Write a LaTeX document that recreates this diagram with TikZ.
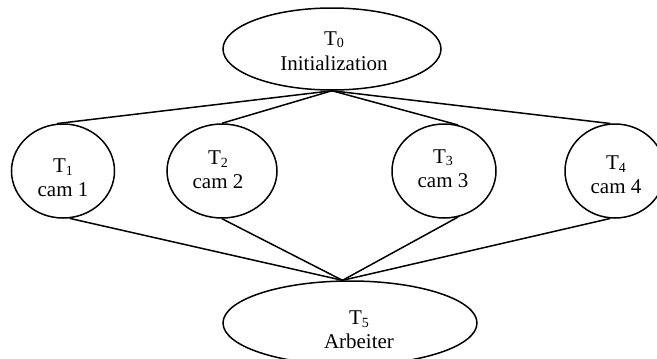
\documentclass[tikz,border=0pt]{standalone}
\usepackage{fontspec}
\setmainfont{Liberation Serif}
\usetikzlibrary{shapes.geometric}
\newcommand{\mysub}[1]{\raisebox{-2.5pt}{\fontsize{14}{14}\selectfont #1}}
\begin{document}
\begin{tikzpicture}[x=1pt,y=-1pt,
  task/.style={draw, ellipse, line width=1.5pt, inner sep=0pt},
  lbl/.style={anchor=base, inner sep=0pt, align=center, font=\fontsize{21}{20}\selectfont},
  conn/.style={line width=1.5pt}]
\useasboundingbox (0,0) rectangle (657,359);
% ellipses
\node[task, minimum width=218pt, minimum height=82pt] (T0) at (332,49) {};
\node[task, minimum width=103pt, minimum height=94pt] (T1) at (63,171) {};
\node[task, minimum width=110pt, minimum height=94pt] (T2) at (222,171) {};
\node[task, minimum width=104pt, minimum height=94pt] (T3) at (444,171) {};
\node[task, minimum width=100pt, minimum height=94pt] (T4) at (615,171) {};
\node[task, minimum width=254pt, minimum height=84pt] (T5) at (350,323) {};
% labels (anchor at baseline of last line)
\node[lbl] (l0) at (334,70) {T\mysub{0}\\[5pt]Initialization};
\node[lbl] (l1) at (63,196) {T\mysub{1}\\[3.5pt]cam 1};
\node[lbl] (l2) at (218,188) {T\mysub{2}\\[3.5pt]cam 2};
\node[lbl] (l3) at (443,187) {T\mysub{3}\\[4pt]cam 3};
\node[lbl] (l4) at (616,193) {T\mysub{4}\\[3.5pt]cam 4};
\node[lbl] (l5) at (359,348) {T\mysub{5}\\[3.5pt]Arbeiter};
% connectors
\draw[conn] (T0.south) -- (T1.97);
\draw[conn] (T0.south) -- (T2.north);
\draw[conn] (T0.south) -- (T3.73);
\draw[conn] (T0.south) -- (T4.96);
\draw[conn] (T5.100) -- (T1.-82);
\draw[conn] (T5.100) -- (T2.south);
\draw[conn] (T5.100) -- (T3.-73);
\draw[conn] (T5.100) -- (T4.-96);
\end{tikzpicture}
\end{document}
